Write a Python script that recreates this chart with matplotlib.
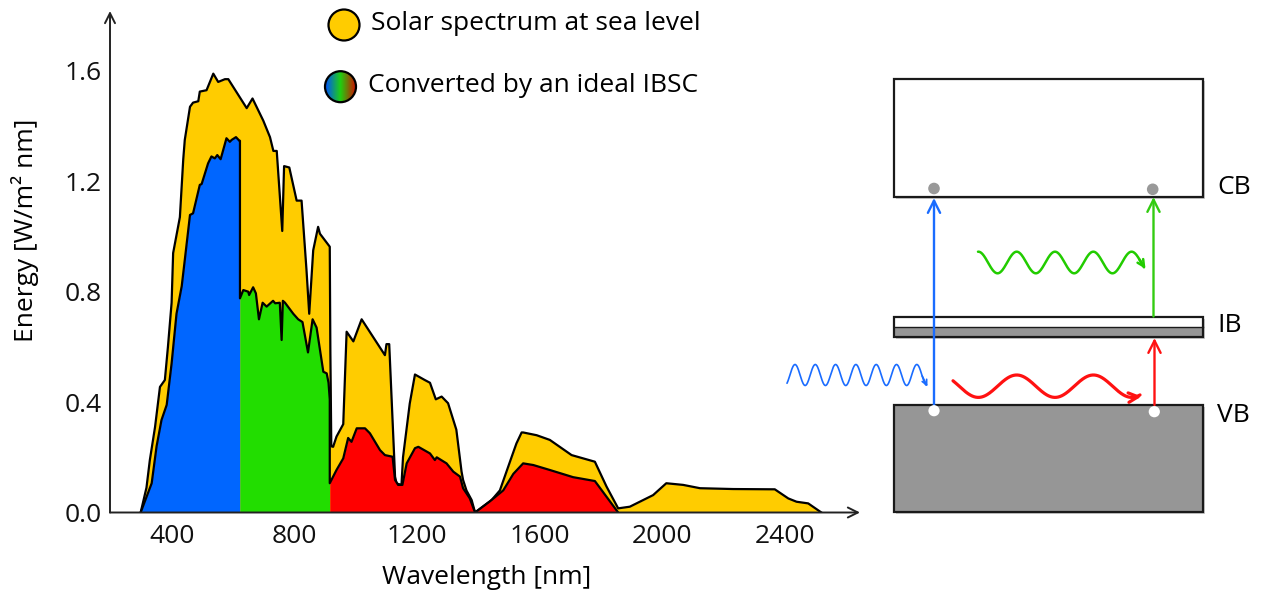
import numpy as np
import matplotlib
matplotlib.use("Agg")
import matplotlib.pyplot as plt
from matplotlib.patches import Rectangle, Circle
from matplotlib.colors import LinearSegmentedColormap

plt.rcParams['font.family'] = ['Open Sans', 'DejaVu Sans']

# ---------------- data ----------------
solar_wl = [298, 317, 328, 345, 361, 377, 387, 399, 404, 426, 437, 442, 459, 469, 486, 491,
            513, 535, 551, 573, 584, 644, 663, 698, 720, 731, 742, 760, 766, 783, 807, 823,
            839, 848, 861, 877, 883, 915, 917, 920, 926, 937, 959, 970, 992, 1019, 1095,
            1100, 1109, 1128, 1133, 1149, 1154, 1176, 1193, 1225, 1242, 1261, 1280, 1301,
            1328, 1345, 1350, 1361, 1378, 1389, 1443, 1470, 1508, 1524, 1541, 1546, 1590,
            1633, 1704, 1780, 1818, 1856, 1894, 1970, 2013, 2068, 2123, 2231, 2367, 2411,
            2438, 2476, 2519]
solar_e = [0.0, 0.09, 0.19, 0.31, 0.455, 0.48, 0.60, 0.76, 0.94, 1.07, 1.28, 1.35, 1.47, 1.485,
           1.49, 1.525, 1.53, 1.59, 1.56, 1.57, 1.57, 1.465, 1.50, 1.42, 1.36, 1.31, 1.31, 1.02,
           1.255, 1.25, 1.13, 1.13, 0.88, 0.72, 0.95, 1.035, 1.01, 0.963, 0.58, 0.24, 0.238,
           0.275, 0.32, 0.655, 0.62, 0.70, 0.57, 0.61, 0.61, 0.13, 0.105, 0.10, 0.20, 0.395,
           0.50, 0.48, 0.47, 0.41, 0.42, 0.396, 0.30, 0.148, 0.118, 0.08, 0.045, 0.0, 0.045,
           0.08, 0.20, 0.25, 0.29, 0.29, 0.28, 0.263, 0.208, 0.184, 0.094, 0.015, 0.021, 0.063,
           0.106, 0.10, 0.088, 0.085, 0.084, 0.051, 0.039, 0.033, 0.0]

blue_wl = [298, 334, 350, 366, 383, 399, 415, 432, 442, 459, 469, 491, 497, 518, 529, 540,
           548, 559, 578, 589, 595, 609, 620, 622]
blue_e = [0.0, 0.106, 0.24, 0.335, 0.39, 0.54, 0.72, 0.82, 0.915, 1.078, 1.084, 1.187, 1.19,
          1.265, 1.29, 1.283, 1.295, 1.28, 1.356, 1.343, 1.35, 1.36, 1.347, 1.347]

green_wl = [622, 633, 649, 652, 665, 674, 684, 696, 709, 730, 737, 752, 758, 762, 769, 796,
            812, 826, 844, 859, 872, 894, 905, 911, 915]
green_e = [0.776, 0.806, 0.80, 0.788, 0.816, 0.794, 0.70, 0.76, 0.746, 0.767, 0.758, 0.76,
           0.625, 0.767, 0.76, 0.72, 0.70, 0.69, 0.58, 0.70, 0.67, 0.51, 0.504, 0.47, 0.41]

red_wl = [915, 937, 959, 975, 986, 1003, 1030, 1046, 1079, 1095, 1120, 1128, 1138, 1152, 1166,
          1193, 1204, 1242, 1258, 1264, 1296, 1318, 1340, 1350, 1372, 1389, 1437, 1481, 1514,
          1546, 1579, 1633, 1709, 1780, 1818, 1856]
red_e = [0.106, 0.154, 0.196, 0.27, 0.256, 0.305, 0.305, 0.287, 0.226, 0.208, 0.202, 0.118,
         0.10, 0.10, 0.178, 0.233, 0.238, 0.214, 0.19, 0.20, 0.178, 0.148, 0.13, 0.088, 0.051,
         0.0, 0.04, 0.08, 0.14, 0.178, 0.172, 0.154, 0.128, 0.114, 0.057, 0.0]

x_ticks = [400, 800, 1200, 1600, 2000, 2400]
y_ticks = [0.0, 0.4, 0.8, 1.2, 1.6]
y_tick_labels = ['0.0', '0.4', '0.8', '1.2', '1.6']

legend_labels = ['Solar spectrum at sea level', 'Converted by an ideal IBSC']
band_labels = ['CB', 'IB', 'VB']

YELLOW = '#FFCC00'
BLUE = '#0066FF'
GREEN = '#22DD00'
RED = '#FF0000'

W, H = 1261, 597
fig = plt.figure(figsize=(W / 100, H / 100), dpi=100)

# ---------------- spectrum axes ----------------
ax = fig.add_axes([110 / W, 1 - 512.5 / H, 750 / W, 501.5 / H])
ax.set_xlim(198, 2645)
ax.set_ylim(0, 1.817)

ax.fill_between(solar_wl, 0, solar_e, color=YELLOW, lw=0, zorder=1)
ax.plot(solar_wl, solar_e, color='black', lw=1.6, zorder=2, solid_joinstyle='round')
for wl, e, c in [(blue_wl, blue_e, BLUE), (green_wl, green_e, GREEN), (red_wl, red_e, RED)]:
    ax.fill_between(wl, 0, e, color=c, lw=0, zorder=3)
conv_wl = blue_wl + green_wl + red_wl
conv_e = blue_e + green_e + red_e
ax.plot(conv_wl, conv_e, color='black', lw=1.6, zorder=4, solid_joinstyle='round')

for s in ax.spines.values():
    s.set_visible(False)
ax.annotate('', xy=(1, 0), xytext=(0, 0), xycoords='axes fraction',
            arrowprops=dict(arrowstyle='->', lw=1.4, color='#222222', shrinkA=0, shrinkB=0,
                            mutation_scale=18), zorder=6, annotation_clip=False)
ax.annotate('', xy=(0, 1), xytext=(0, 0), xycoords='axes fraction',
            arrowprops=dict(arrowstyle='->', lw=1.4, color='#222222', shrinkA=0, shrinkB=0,
                            mutation_scale=18), zorder=6, annotation_clip=False)
ax.set_xticks(x_ticks)
ax.set_xticklabels([str(t) for t in x_ticks])
ax.set_yticks(y_ticks)
ax.set_yticklabels(y_tick_labels)
ax.tick_params(length=0, labelsize=19, colors='#111111')
ax.tick_params(axis='x', pad=8)
ax.tick_params(axis='y', pad=6)
ax.patch.set_alpha(0)

# ---------------- overlay in pixel coordinates ----------------
ov = fig.add_axes([0, 0, 1, 1], zorder=5)
ov.set_xlim(0, W)
ov.set_ylim(H, 0)
ov.axis('off')
ov.patch.set_alpha(0)

FS = 19
ov.text(487, 578, 'Wavelength [nm]', ha='center', va='center', fontsize=FS)
ov.text(25, 230, 'Energy [W/m² nm]', ha='center', va='center', fontsize=FS, rotation=90)

# legend
ov.add_patch(Circle((344, 25), 15.5, facecolor=YELLOW, edgecolor='black', lw=1.6))
ov.text(371, 24, legend_labels[0], ha='left', va='center', fontsize=FS)
cmap = LinearSegmentedColormap.from_list('ibsc', ['#0050FF', '#1FD010', '#D01000'])
grad = np.linspace(0, 1, 64).reshape(1, -1)
im = ov.imshow(grad, cmap=cmap, extent=[325, 356, 102, 71], aspect='auto', zorder=2)
clip = Circle((340.5, 86.7), 15.5, transform=ov.transData)
im.set_clip_path(clip)
ov.add_patch(Circle((340.5, 86.7), 15.5, facecolor='none', edgecolor='black', lw=1.6, zorder=3))
ov.text(368, 86, legend_labels[1], ha='left', va='center', fontsize=FS)
ov.set_xlim(0, W)
ov.set_ylim(H, 0)

# band diagram
bx0, bx1 = 894, 1203
def box(y0, y1, fc):
    ov.add_patch(Rectangle((bx0 + 2, y0 + 2), bx1 - bx0, y1 - y0, facecolor='#cccccc',
                           edgecolor='none', zorder=1))
    ov.add_patch(Rectangle((bx0, y0), bx1 - bx0, y1 - y0, facecolor=fc,
                           edgecolor='#1a1a1a', lw=1.6, zorder=2))

box(78.5, 196.5, 'white')
box(405, 512, '#969696')
# intermediate band: white upper half, grey lower half
ov.add_patch(Rectangle((bx0 + 2, 318.5), bx1 - bx0, 20.5, facecolor='#cccccc', edgecolor='none', zorder=1))
ov.add_patch(Rectangle((bx0, 316.5), bx1 - bx0, 10.5, facecolor='white', edgecolor='none', zorder=2))
ov.add_patch(Rectangle((bx0, 327), bx1 - bx0, 10, facecolor='#969696', edgecolor='none', zorder=2))
ov.add_patch(Rectangle((bx0, 316.5), bx1 - bx0, 20.5, facecolor='none', edgecolor='#1a1a1a',
                       lw=1.6, zorder=2.5))
ov.plot([bx0, bx1], [327, 327], color='#1a1a1a', lw=1.0, zorder=2.5)

ov.text(1217, 188, band_labels[0], ha='left', va='center', fontsize=FS)
ov.text(1217, 326, band_labels[1], ha='left', va='center', fontsize=FS)
ov.text(1217, 415, band_labels[2], ha='left', va='center', fontsize=FS)

def varrow(x, y0, y1, c):
    ov.annotate('', xy=(x, y1), xytext=(x, y0), xycoords='data',
                arrowprops=dict(arrowstyle='->', color=c, lw=1.7, shrinkA=0, shrinkB=0,
                                mutation_scale=22), zorder=4)

varrow(934, 405, 198, '#1A6CFF')
varrow(1153.5, 316.5, 197, '#33CC11')
varrow(1154.5, 405, 338, '#FF1111')

ov.add_patch(Circle((934, 188.5), 5.8, facecolor='#999999', edgecolor='none', zorder=5))
ov.add_patch(Circle((1152.7, 189.3), 5.8, facecolor='#999999', edgecolor='none', zorder=5))
ov.add_patch(Circle((934, 410.7), 5.6, facecolor='white', edgecolor='none', zorder=5))
ov.add_patch(Circle((1154.3, 411.7), 5.6, facecolor='white', edgecolor='none', zorder=5))

def wave(xa, xb, xpeak, period, yc, amp, c, lw, ms):
    xs = np.linspace(xa, xb, 400)
    ys = yc - amp * np.cos(2 * np.pi * (xs - xpeak) / period)
    ov.plot(xs, ys, color=c, lw=lw, zorder=4, solid_capstyle='round')
    ov.annotate('', xy=(xs[-1] + 1.5, ys[-1] + 1.5), xytext=(xs[-12], ys[-12]),
                arrowprops=dict(arrowstyle='->', color=c, lw=lw, shrinkA=0, shrinkB=0,
                                mutation_scale=ms), zorder=4)

wave(787, 926, 795, 20.3, 375, 10.5, '#1A6CFF', 1.2, 9)
wave(978, 1144, 978.4, 38.3, 262.5, 10.8, '#22CC00', 1.8, 12)
wave(953, 1140, 1016.7, 76.7, 386.2, 11.2, '#FF1111', 2.3, 17)

fig.savefig('out.png', dpi=100)
